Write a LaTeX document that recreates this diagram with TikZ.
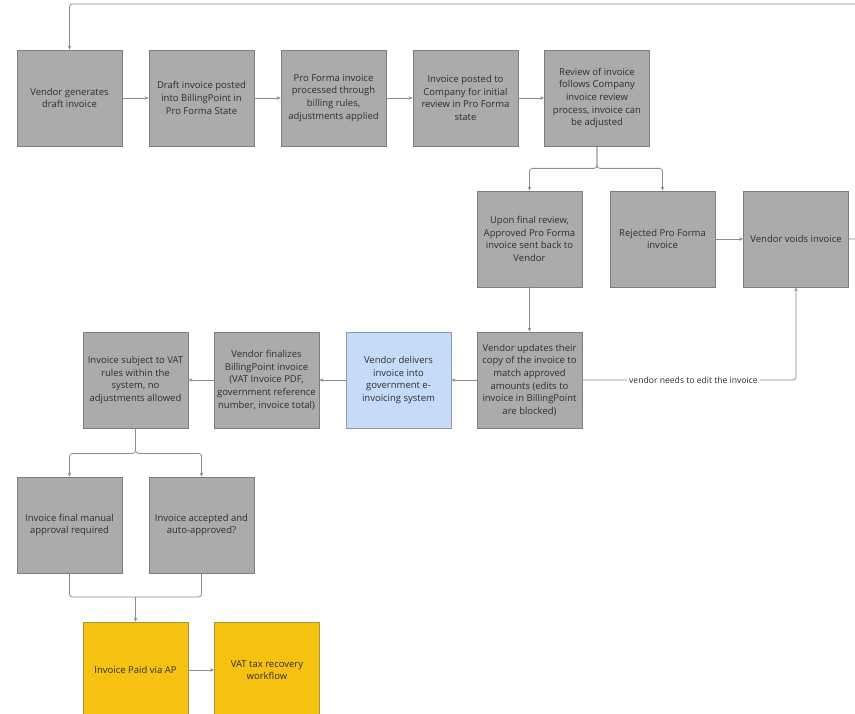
\documentclass[tikz,border=0pt]{standalone}
\usepackage{fontspec}
\setmainfont{Open Sans}
\usetikzlibrary{arrows.meta}
\definecolor{boxgray}{HTML}{ABABAB}
\definecolor{boxline}{HTML}{7E7E7E}
\definecolor{boxblue}{HTML}{C6DBF8}
\definecolor{blueline}{HTML}{8C9AAD}
\definecolor{boxgold}{HTML}{F5C211}
\definecolor{goldline}{HTML}{A8933E}
\definecolor{wire}{HTML}{8C8C8C}
\definecolor{ink}{HTML}{2E2E2E}
\begin{document}
\begin{tikzpicture}[x=1pt, y=-1pt,
    every node/.style={text=ink, font=\fontsize{9.5}{12.7}\selectfont},
    box/.style={rectangle, draw=boxline, fill=boxgray, line width=0.8pt, minimum width=105pt, minimum height=96pt, inner sep=0pt, align=center},
    bluebox/.style={box, draw=blueline, fill=boxblue},
    goldbox/.style={box, draw=goldline, fill=boxgold},
    wire/.style={draw=wire, line width=0.8pt, rounded corners=3pt},
    >={Stealth[length=4pt,width=3.5pt]}]
    \useasboundingbox (0,0) rectangle (855,714);
    % first row
    \node[box] (gen) at (69.5, 98) {Vendor generates\\draft invoice};
    \node[box] (draft) at (201.5, 98) {Draft invoice posted\\into BillingPoint in\\Pro Forma State};
    \node[box] (proc) at (333.5, 98) {Pro Forma invoice\\processed through\\billing rules,\\adjustments applied};
    \node[box] (posted) at (465.5, 98) {Invoice posted to\\Company for initial\\review in Pro Forma\\state};
    \node[box] (review) at (597, 98) {Review of invoice\\follows Company\\invoice review\\process, invoice can\\be adjusted};
    % second row
    \node[box] (approved) at (529.5, 239) {Upon final review,\\Approved Pro Forma\\invoice sent back to\\Vendor};
    \node[box] (rejected) at (662.5, 239) {Rejected Pro Forma\\invoice};
    \node[box] (voids) at (796, 239) {Vendor voids invoice};
    % third row
    \node[box] (vat) at (135.5, 380) {Invoice subject to VAT\\rules within the\\system, no\\adjustments allowed};
    \node[box] (finalize) at (266.5, 380) {Vendor finalizes\\BillingPoint invoice\\(VAT Invoice PDF,\\government reference\\number, invoice total)};
    \node[bluebox] (deliver) at (398.5, 380) {Vendor delivers\\invoice into\\government e-\\invoicing system};
    \node[box] (update) at (529.5, 380) {Vendor updates their\\copy of the invoice to\\match approved\\amounts (edits to\\invoice in BillingPoint\\are blocked)};
    % fourth row
    \node[box] (manual) at (69.5, 525) {Invoice final manual\\approval required};
    \node[box] (accepted) at (201.5, 525) {Invoice accepted and\\auto-approved?};
    % last row
    \node[goldbox] (paid) at (135.5, 670) {Invoice Paid via AP};
    \node[goldbox] (recovery) at (267, 670) {VAT tax recovery\\workflow};
    % connectors
    \draw[wire, ->] (gen) -- (draft);
    \draw[wire, ->] (draft) -- (proc);
    \draw[wire, ->] (proc) -- (posted);
    \draw[wire, ->] (posted) -- (review);
    \draw[wire, ->] (review.south) -- ++(0, 22) -| (approved.north);
    \draw[wire, ->] (review.south) -- ++(0, 22) -| (rejected.north);
    \draw[wire, ->] (rejected) -- (voids);
    \draw[wire, ->] (voids.east) -- (872, 239) -- (872, 4) -| (gen.north);
    \draw[wire, ->] (approved) -- (update);
    \draw[wire, ->] (update.east) -- (796, 380)
        node[pos=0.52, fill=white, inner sep=2pt, font=\fontsize{8.6}{10}\selectfont] (edit) {vendor needs to edit the invoice}
        -- (voids.south);
    \draw[wire, ->] (update) -- (deliver);
    \draw[wire, ->] (deliver) -- (finalize);
    \draw[wire, ->] (finalize) -- (vat);
    \draw[wire, ->] (vat.south) -- ++(0, 25) -| (manual.north);
    \draw[wire, ->] (vat.south) -- ++(0, 25) -| (accepted.north);
    \draw[wire] (manual.south) |- (135.5, 597) coordinate (merge);
    \draw[wire] (accepted.south) |- (merge);
    \draw[wire, ->] (merge) -- (paid.north);
    \draw[wire, ->] (paid) -- (recovery);
\end{tikzpicture}
\end{document}
